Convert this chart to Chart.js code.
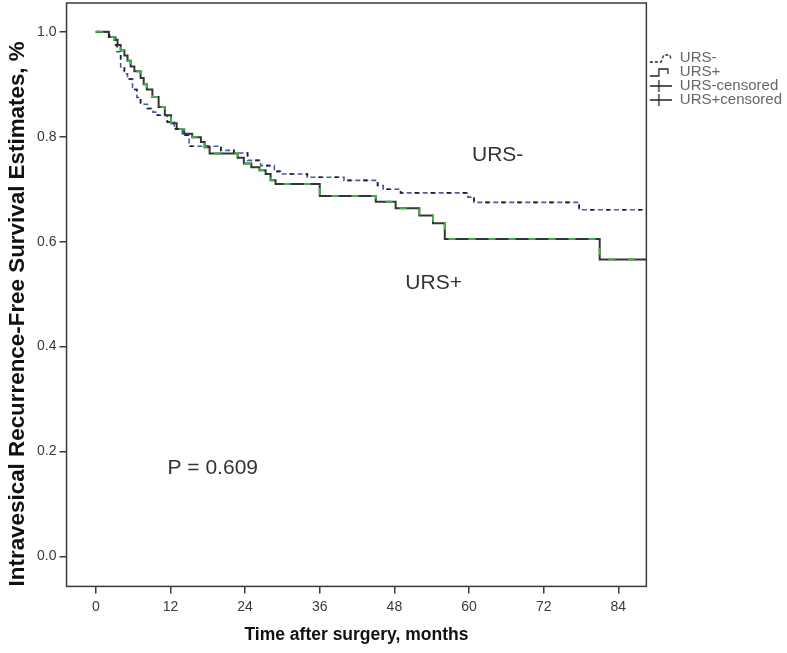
<!DOCTYPE html>
<html>
<head>
<meta charset="utf-8">
<title>Intravesical recurrence-free survival</title>
<script src="https://cdn.jsdelivr.net/npm/chart.js@4.4.1/dist/chart.umd.min.js"></script>
<style>
  html, body { margin: 0; padding: 0; background: #fff; }
  #km-chart { display: block; }
</style>
</head>
<body>
<canvas id="km-chart" width="787" height="653"></canvas>
<script>
"strict";

// Kaplan-Meier steps: month of each drop and the survival after it
const ursMinusMonths = [0, 2.2, 3.2, 3.4, 4.0, 4.6, 5.1, 5.9, 6.6, 7.2, 8.3, 9.2, 9.9, 11.5, 12.6, 13.9, 15.0, 20.1, 22.2, 24.4, 26.5, 28.7, 29.7, 34.0, 39.9, 45.3, 46.2, 49.0, 59.8, 60.8, 77.7, 88.5];
const ursMinusSurvival = [1.0, 0.990, 0.975, 0.962, 0.933, 0.920, 0.910, 0.890, 0.875, 0.862, 0.854, 0.847, 0.841, 0.828, 0.815, 0.803, 0.782, 0.774, 0.769, 0.755, 0.745, 0.734, 0.729, 0.723, 0.717, 0.707, 0.700, 0.693, 0.685, 0.675, 0.661, 0.661];

const ursPlusMonths = [0, 2.1, 3.0, 3.5, 4.0, 4.6, 5.1, 5.6, 6.2, 7.2, 7.7, 8.2, 9.1, 10.1, 11.1, 12.1, 13.0, 14.2, 15.5, 16.9, 17.5, 18.3, 22.8, 23.8, 25.0, 26.3, 27.3, 28.1, 28.9, 36.0, 45.0, 48.2, 52.0, 54.2, 56.1, 81.0, 88.5];
const ursPlusSurvival = [1.0, 0.990, 0.985, 0.975, 0.965, 0.955, 0.945, 0.934, 0.925, 0.912, 0.900, 0.890, 0.876, 0.857, 0.841, 0.826, 0.815, 0.806, 0.799, 0.790, 0.780, 0.768, 0.760, 0.749, 0.742, 0.736, 0.729, 0.717, 0.710, 0.687, 0.676, 0.664, 0.650, 0.635, 0.605, 0.566, 0.566];

const seriesNames = ["URS-", "URS+", "URS-censored", "URS+censored"];
const xTickValues = [0, 12, 24, 36, 48, 60, 72, 84];
const yTickValues = [0, 0.2, 0.4, 0.6, 0.8, 1.0];
const curveLabels = ["URS-", "URS+", "P = 0.609"];

const FONT = "'Liberation Sans', Arial, sans-serif";

function toPoints(months, survival) {
  return months.map((m, i) => ({ x: m, y: survival[i] }));
}

// little legend pictures, like the SPSS ones
function makeIcon(draw) {
  const c = document.createElement("canvas");
  c.width = 26;
  c.height = 14;
  const g = c.getContext("2d");
  g.strokeStyle = "#222";
  g.lineWidth = 1.3;
  draw(g);
  return c;
}

const legendIcons = [
  makeIcon((g) => {
    g.setLineDash([3, 2]);
    g.beginPath();
    g.moveTo(4, 11); g.lineTo(15, 11); g.lineTo(18, 4); g.lineTo(24, 4); g.lineTo(25, 8);
    g.stroke();
  }),
  makeIcon((g) => {
    g.beginPath();
    g.moveTo(4, 11); g.lineTo(13, 11); g.lineTo(13, 4); g.lineTo(22, 4); g.lineTo(22, 9);
    g.stroke();
  }),
  makeIcon((g) => {
    g.beginPath();
    g.moveTo(4, 7); g.lineTo(26, 7); g.moveTo(13, 1); g.lineTo(13, 13);
    g.stroke();
  }),
  makeIcon((g) => {
    g.beginPath();
    g.moveTo(4, 7); g.lineTo(26, 7); g.moveTo(13, 1); g.lineTo(13, 13);
    g.stroke();
  }),
];

const framePlugin = {
  id: "frame",
  afterDatasetsDraw(chart) {
    const { ctx, chartArea: a } = chart;
    ctx.save();
    ctx.strokeStyle = "#3a3a3a";
    ctx.lineWidth = 1.5;
    ctx.strokeRect(a.left, a.top, a.right - a.left, a.bottom - a.top);
    ctx.restore();
  },
};

const curveLabelPlugin = {
  id: "curveLabels",
  afterDatasetsDraw(chart, args, opts) {
    const { ctx, scales } = chart;
    ctx.save();
    ctx.fillStyle = opts.color;
    ctx.textAlign = "center";
    ctx.textBaseline = "middle";
    opts.items.forEach((item) => {
      ctx.font = item.font;
      ctx.fillText(item.text, scales.x.getPixelForValue(item.month), scales.y.getPixelForValue(item.value));
    });
    ctx.restore();
  },
};

function stepLine(label, months, survival, color, width, dash, order) {
  return {
    label: label,
    data: toPoints(months, survival),
    borderColor: color,
    borderWidth: width,
    borderDash: dash,
    stepped: true,
    pointRadius: 0,
    fill: false,
    order: order,
  };
}

const ctx = document.getElementById("km-chart").getContext("2d");
const kmChart = new Chart(ctx, {
  type: "line",
  data: {
    datasets: [
      stepLine(seriesNames[0], ursMinusMonths, ursMinusSurvival, "#4657ad", 1.6, [5, 3], 3),
      stepLine(seriesNames[1], ursPlusMonths, ursPlusSurvival, "#353535", 2, [], 2),
      stepLine(seriesNames[2], ursMinusMonths, ursMinusSurvival, "#222222", 1.6, [4, 12], 1),
      stepLine(seriesNames[3], ursPlusMonths, ursPlusSurvival, "#3fb24a", 2, [7, 13], 0),
    ],
  },
  options: {
    responsive: false,
    animation: false,
    layout: { padding: { left: 2.2, right: -5, top: 3, bottom: -0.2 } },
    scales: {
      x: {
        type: "linear",
        min: -4.7,
        max: 88.5,
        afterBuildTicks: (scale) => { scale.ticks = xTickValues.map((v) => ({ value: v })); },
        ticks: { color: "#3a3a3a", font: { family: FONT, size: 14 }, padding: 5, maxRotation: 0 },
        grid: { drawOnChartArea: false, color: "#3a3a3a", lineWidth: 1.5, tickLength: 7 },
        border: { display: false },
        title: {
          display: true,
          text: "Time after surgery, months",
          color: "#111",
          font: { family: FONT, size: 17.5, weight: "bold" },
          padding: { top: 4.6, bottom: 7.4 },
        },
      },
      y: {
        type: "linear",
        min: -0.057,
        max: 1.055,
        afterBuildTicks: (scale) => { scale.ticks = yTickValues.map((v) => ({ value: v })); },
        // the top tick sits well inside the frame, so no room is needed above it
        afterFit: (scale) => { scale.paddingTop = 0; },
        ticks: { color: "#3a3a3a", font: { family: FONT, size: 14 }, padding: 3, callback: (v) => v.toFixed(1) },
        grid: { drawOnChartArea: false, color: "#3a3a3a", lineWidth: 1.5, tickLength: 7 },
        border: { display: false },
        title: {
          display: true,
          align: "start",
          text: "Intravesical Recurrence-Free Survival Estimates, %",
          color: "#111",
          font: { family: FONT, size: 22.4, weight: "bold" },
          padding: { top: 2, bottom: 3 },
        },
      },
    },
    plugins: {
      tooltip: { enabled: false },
      legend: {
        position: "right",
        align: "start",
        title: { display: true, text: "", font: { size: 10 }, padding: { top: 36.5, bottom: 0 } },
        labels: {
          usePointStyle: true,
          pointStyleWidth: 27,
          padding: -1,
          color: "#222",
          font: { family: FONT, size: 15 },
          generateLabels: (chart) => chart.data.datasets.map((ds, i) => ({
            text: ds.label,
            pointStyle: legendIcons[i],
            datasetIndex: i,
            hidden: false,
            fillStyle: "transparent",
            strokeStyle: "transparent",
            lineWidth: 0,
          })),
        },
      },
      curveLabels: {
        color: "#333",
        items: [
          { text: curveLabels[0], month: 64.6, value: 0.764, font: "21px " + FONT },
          { text: curveLabels[1], month: 54.3, value: 0.520, font: "21px " + FONT },
          { text: curveLabels[2], month: 18.8, value: 0.168, font: "21px " + FONT },
        ],
      },
    },
  },
  plugins: [framePlugin, curveLabelPlugin],
});
</script>
</body>
</html>
